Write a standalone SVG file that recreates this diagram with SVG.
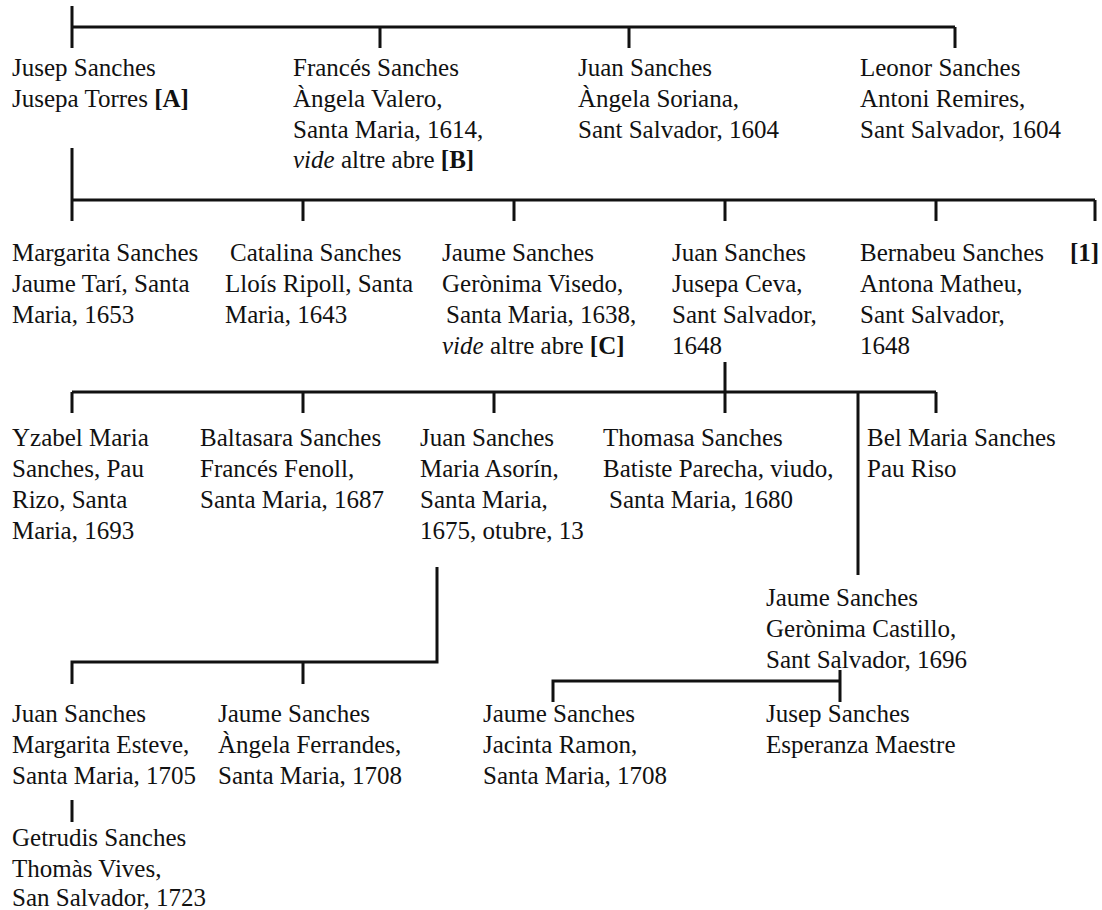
<svg xmlns="http://www.w3.org/2000/svg" width="1102" height="910" viewBox="0 0 1102 910">
  <style>
    .t { font-family: "Liberation Serif", "Times New Roman", serif; font-size: 25px; fill: #111; }
    .b { font-weight: bold; }
    .i { font-style: italic; }
    .ln { stroke: #111; stroke-width: 3; fill: none; stroke-linecap: butt; }
  </style>
  <rect width="1102" height="910" fill="#fff"/>

  <!-- connectors -->
  <g id="connectors" class="ln">
    <!-- generation 1 -->
    <path d="M72 6 V48 M72 27 H955 M380 27 V48 M629 27 V48 M955 27 V48"/>
    <!-- Jusep Sanches children -->
    <path d="M72 148 V221 M72 200 H1095 M303 200 V221 M514 200 V221 M725 200 V221 M936 200 V221 M1095 200 V221"/>
    <!-- Juan Sanches / Jusepa Ceva children -->
    <path d="M725 362 V392 M72 392 H936 M72 392 V413 M303 392 V413 M494 392 V413 M725 392 V413 M936 392 V413 M858 392 V575"/>
    <!-- Juan Sanches / Maria Asorín children -->
    <path d="M437 567 V662 H72 V684 M303 662 V684"/>
    <!-- Jaume Sanches / Gerònima Castillo children -->
    <path d="M840 670 V702 M840 681 H553 V702"/>
    <!-- Juan Sanches / Margarita Esteve child -->
    <path d="M72 800 V822"/>
  </g>

  <!-- generation 1 -->
  <g id="jusep-sanches" class="t">
    <text x="12" y="76">Jusep Sanches</text>
    <text x="12" y="107">Jusepa Torres <tspan class="b">[A]</tspan></text>
  </g>
  <g id="frances-sanches" class="t">
    <text x="293" y="76">Francés Sanches</text>
    <text x="293" y="107">Àngela Valero,</text>
    <text x="293" y="138">Santa Maria, 1614,</text>
    <text x="293" y="168"><tspan class="i">vide</tspan> altre abre <tspan class="b">[B]</tspan></text>
  </g>
  <g id="juan-sanches-1604" class="t">
    <text x="578" y="76">Juan Sanches</text>
    <text x="578" y="107">Àngela Soriana,</text>
    <text x="578" y="138">Sant Salvador, 1604</text>
  </g>
  <g id="leonor-sanches" class="t">
    <text x="860" y="76">Leonor Sanches</text>
    <text x="860" y="107">Antoni Remires,</text>
    <text x="860" y="138">Sant Salvador, 1604</text>
  </g>

  <!-- generation 2 -->
  <g id="margarita-sanches" class="t">
    <text x="12" y="261">Margarita Sanches</text>
    <text x="12" y="292">Jaume Tarí, Santa</text>
    <text x="12" y="323">Maria, 1653</text>
  </g>
  <g id="catalina-sanches" class="t">
    <text x="230" y="261">Catalina Sanches</text>
    <text x="225" y="292">Lloís Ripoll, Santa</text>
    <text x="225" y="323">Maria, 1643</text>
  </g>
  <g id="jaume-sanches-1638" class="t">
    <text x="442" y="261">Jaume Sanches</text>
    <text x="442" y="292">Gerònima Visedo,</text>
    <text x="446" y="323">Santa Maria, 1638,</text>
    <text x="442" y="354"><tspan class="i">vide</tspan> altre abre <tspan class="b">[C]</tspan></text>
  </g>
  <g id="juan-sanches-1648" class="t">
    <text x="672" y="261">Juan Sanches</text>
    <text x="672" y="292">Jusepa Ceva,</text>
    <text x="672" y="323">Sant Salvador,</text>
    <text x="672" y="354">1648</text>
  </g>
  <g id="bernabeu-sanches" class="t">
    <text x="860" y="261">Bernabeu Sanches</text>
    <text x="860" y="292">Antona Matheu,</text>
    <text x="860" y="323">Sant Salvador,</text>
    <text x="860" y="354">1648</text>
  </g>
  <g id="note-1" class="t b">
    <text x="1070" y="261">[1]</text>
  </g>

  <!-- generation 3 -->
  <g id="yzabel-maria-sanches" class="t">
    <text x="12" y="446">Yzabel Maria</text>
    <text x="12" y="477">Sanches, Pau</text>
    <text x="12" y="508">Rizo, Santa</text>
    <text x="12" y="539">Maria, 1693</text>
  </g>
  <g id="baltasara-sanches" class="t">
    <text x="200" y="446">Baltasara Sanches</text>
    <text x="200" y="477">Francés Fenoll,</text>
    <text x="200" y="508">Santa Maria, 1687</text>
  </g>
  <g id="juan-sanches-1675" class="t">
    <text x="420" y="446">Juan Sanches</text>
    <text x="420" y="477">Maria Asorín,</text>
    <text x="420" y="508">Santa Maria,</text>
    <text x="420" y="539">1675, otubre, 13</text>
  </g>
  <g id="thomasa-sanches" class="t">
    <text x="603" y="446">Thomasa Sanches</text>
    <text x="603" y="477">Batiste Parecha, viudo,</text>
    <text x="609" y="508">Santa Maria, 1680</text>
  </g>
  <g id="bel-maria-sanches" class="t">
    <text x="867" y="446">Bel Maria Sanches</text>
    <text x="867" y="477">Pau Riso</text>
  </g>
  <g id="jaume-sanches-1696" class="t">
    <text x="766" y="606">Jaume Sanches</text>
    <text x="766" y="637">Gerònima Castillo,</text>
    <text x="766" y="668">Sant Salvador, 1696</text>
  </g>

  <!-- generation 4 -->
  <g id="juan-sanches-1705" class="t">
    <text x="12" y="722">Juan Sanches</text>
    <text x="12" y="753">Margarita Esteve,</text>
    <text x="12" y="784">Santa Maria, 1705</text>
  </g>
  <g id="jaume-sanches-ferrandes" class="t">
    <text x="218" y="722">Jaume Sanches</text>
    <text x="218" y="753">Àngela Ferrandes,</text>
    <text x="218" y="784">Santa Maria, 1708</text>
  </g>
  <g id="jaume-sanches-ramon" class="t">
    <text x="483" y="722">Jaume Sanches</text>
    <text x="483" y="753">Jacinta Ramon,</text>
    <text x="483" y="784">Santa Maria, 1708</text>
  </g>
  <g id="jusep-sanches-maestre" class="t">
    <text x="766" y="722">Jusep Sanches</text>
    <text x="766" y="753">Esperanza Maestre</text>
  </g>

  <!-- generation 5 -->
  <g id="getrudis-sanches" class="t">
    <text x="12" y="846">Getrudis Sanches</text>
    <text x="12" y="877">Thomàs Vives,</text>
    <text x="12" y="906">San Salvador, 1723</text>
  </g>
</svg>
